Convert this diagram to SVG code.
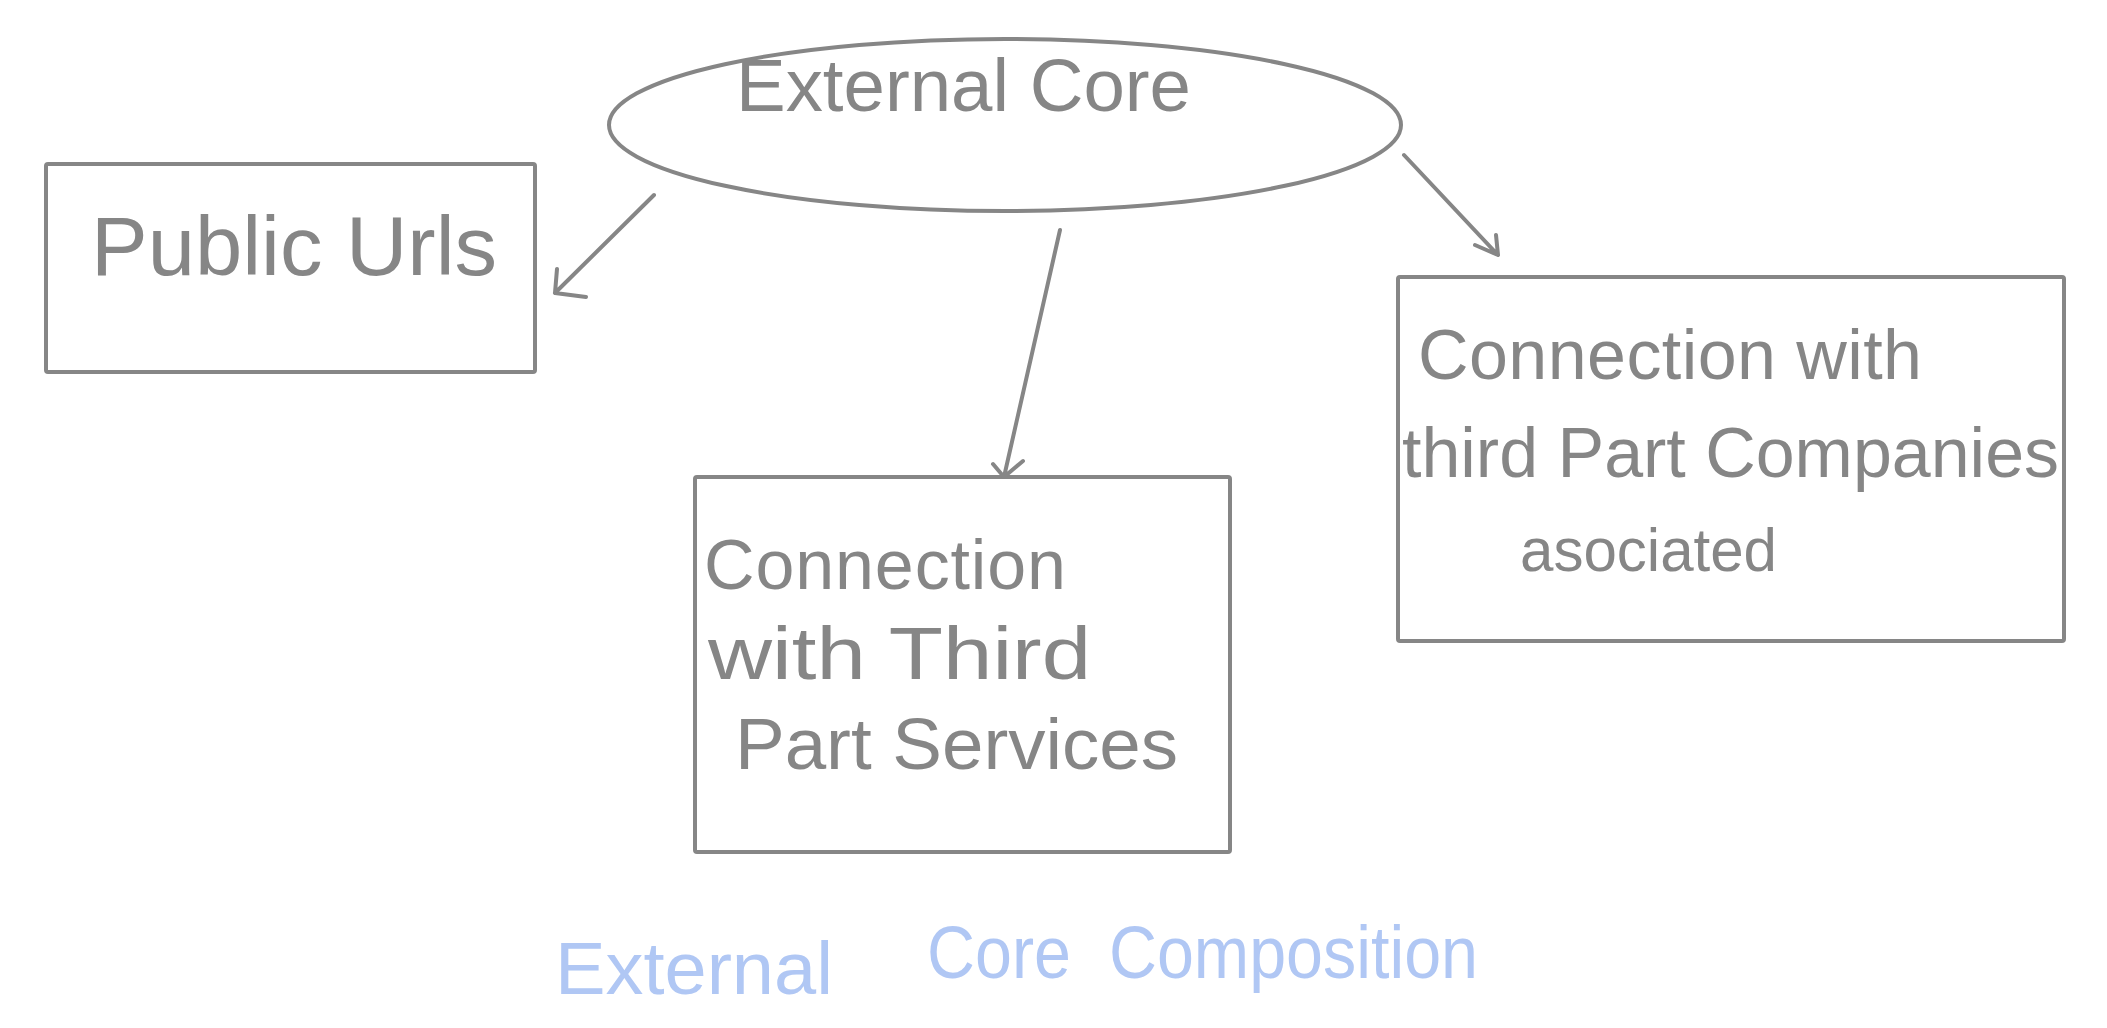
<svg xmlns="http://www.w3.org/2000/svg" width="2107" height="1028" viewBox="0 0 2107 1028">
  <style>
    .shape { fill: none; stroke: #868686; stroke-width: 4; stroke-linejoin: round; stroke-linecap: round; }
    .wire { fill: none; stroke: #868686; stroke-width: 4; stroke-linecap: round; stroke-linejoin: round; }
    .label { font-family: "Liberation Sans", Arial, sans-serif; fill: #868686; }
    .caption { font-family: "Liberation Sans", Arial, sans-serif; fill: #b0c7f4; }
  </style>
  <rect width="2107" height="1028" fill="#ffffff"/>

  <!-- central node -->
  <g id="external-core">
    <ellipse class="shape" cx="1005" cy="125" rx="396" ry="86"/>
    <text class="label" x="736" y="111" font-size="74" textLength="455" lengthAdjust="spacingAndGlyphs">External Core</text>
  </g>

  <g id="public-urls">
    <rect class="shape" x="46" y="164" width="489" height="208" rx="2"/>
    <text class="label" x="91" y="275" font-size="84" textLength="406" lengthAdjust="spacingAndGlyphs">Public Urls</text>
  </g>

  <g id="third-party-services">
    <rect class="shape" x="695" y="477" width="535" height="375" rx="2"/>
    <text class="label" font-size="70">
      <tspan x="704" y="589" textLength="362" lengthAdjust="spacing">Connection</tspan>
      <tspan x="708" y="679" font-size="74" textLength="383" lengthAdjust="spacingAndGlyphs">with Third</tspan>
      <tspan x="735" y="769" font-size="72" textLength="443" lengthAdjust="spacingAndGlyphs">Part Services</tspan>
    </text>
  </g>

  <g id="third-party-companies">
    <rect class="shape" x="1398" y="277" width="666" height="364" rx="2"/>
    <text class="label" font-size="70">
      <tspan x="1418" y="379" textLength="504" lengthAdjust="spacing">Connection with</tspan>
      <tspan x="1402" y="477" textLength="657" lengthAdjust="spacingAndGlyphs">third Part Companies</tspan>
      <tspan x="1520" y="571" font-size="62" textLength="257" lengthAdjust="spacingAndGlyphs">asociated</tspan>
    </text>
  </g>

  <!-- connectors with open V heads -->
  <g id="connectors">
    <path class="wire" d="M654 195 L555 293 M557 269 L555 293 L586 297"/>
    <path class="wire" d="M1060 230 L1004 477 M993 464 L1004 477 L1023 461"/>
    <path class="wire" d="M1404 155 L1498 255 M1496 235 L1498 255 L1475 245"/>
  </g>

  <g id="caption">
    <text class="caption" x="555" y="994" font-size="74" textLength="278" lengthAdjust="spacingAndGlyphs">External</text>
    <text class="caption" x="927" y="978" font-size="74" textLength="144" lengthAdjust="spacingAndGlyphs">Core</text>
    <text class="caption" x="1109" y="978" font-size="74" textLength="369" lengthAdjust="spacingAndGlyphs">Composition</text>
  </g>
</svg>
